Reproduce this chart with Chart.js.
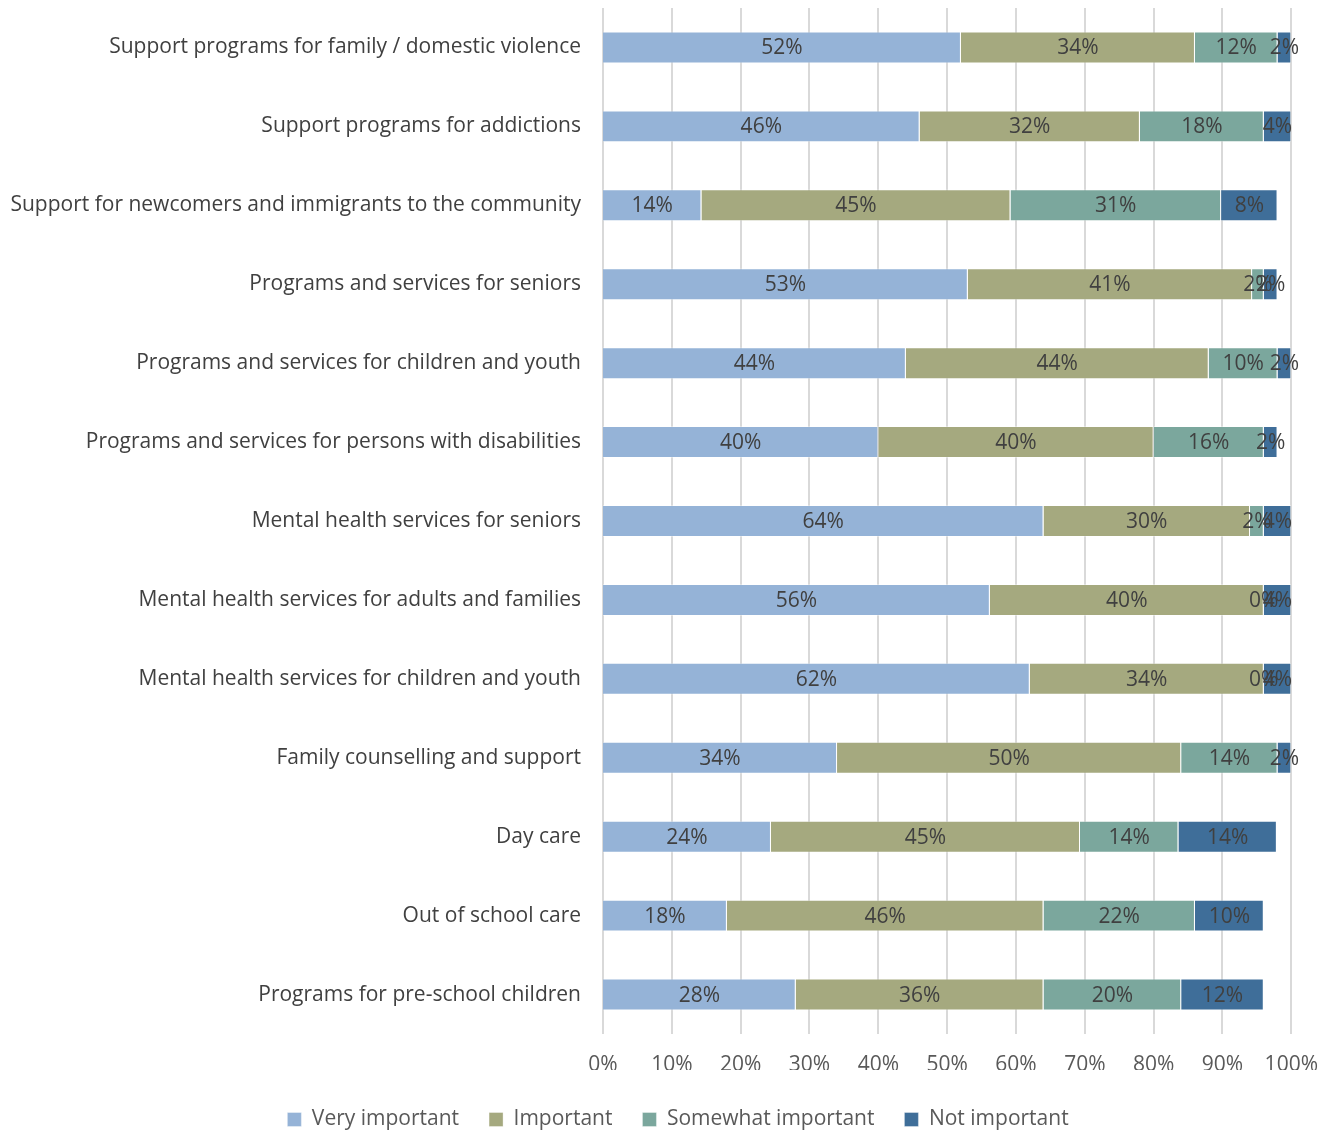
<!DOCTYPE html>
<html>
<head>
<meta charset="utf-8">
<script src="https://cdn.jsdelivr.net/npm/chart.js@4/dist/chart.umd.min.js"></script>
<style>
  html, body { margin: 0; padding: 0; background: #fff; }
  #wrap { width: 1336px; height: 1131px; }
</style>
</head>
<body>
<div id="wrap"><canvas id="chart"></canvas></div>
<script>
var categories = [
    'Support programs for family / domestic violence',
    'Support programs for addictions',
    'Support for newcomers and immigrants to the community',
    'Programs and services for seniors',
    'Programs and services for children and youth',
    'Programs and services for persons with disabilities',
    'Mental health services for seniors',
    'Mental health services for adults and families',
    'Mental health services for children and youth',
    'Family counselling and support',
    'Day care',
    'Out of school care',
    'Programs for pre-school children'
];

var veryImportant     = [52, 46, 14.3, 53, 44, 40, 64, 56.2, 62, 34, 24.4, 18, 28];
var important         = [34, 32, 44.9, 41.3, 44, 40, 30, 39.8, 34, 50, 44.9, 46, 36];
var somewhatImportant = [12, 18, 30.6, 1.7, 10, 16, 2, 0, 0, 14, 14.3, 22, 20];
var notImportant      = [2, 4, 8.2, 2, 2, 2, 4, 4, 4, 2, 14.3, 10, 12];

var seriesNames = ['Very important', 'Important', 'Somewhat important', 'Not important'];
var seriesColors = ['#95B3D7', '#A5A97F', '#7BA79D', '#3F6E99'];

var FONT = '"Open Sans", sans-serif';

// lineas verticales, solo dentro del area del grafico
var gridLines = {
    id: 'gridLines',
    beforeDatasetsDraw: function(chart) {
        var ctx = chart.ctx;
        var xs = chart.scales.x;
        var top = chart.chartArea.top;
        var bottom = xs.top;
        ctx.save();
        ctx.strokeStyle = '#D9D9D9';
        ctx.lineWidth = 2;
        xs.ticks.forEach(function(t) {
            var x = Math.round(xs.getPixelForValue(t.value));
            ctx.beginPath();
            ctx.moveTo(x, top);
            ctx.lineTo(x, bottom);
            ctx.stroke();
        });
        ctx.restore();
    }
};

// etiquetas dentro de cada segmento
var segmentLabels = {
    id: 'segmentLabels',
    afterDatasetsDraw: function(chart) {
        var ctx = chart.ctx;
        ctx.save();
        ctx.font = '21px ' + FONT;
        ctx.fillStyle = '#404040';
        ctx.textAlign = 'center';
        ctx.textBaseline = 'middle';
        chart.data.datasets.forEach(function(ds, i) {
            var meta = chart.getDatasetMeta(i);
            meta.data.forEach(function(bar, j) {
                var v = ds.data[j];
                var x = (bar.x + bar.base) / 2;
                ctx.fillText(Math.round(v) + '%', x, bar.y + 1);
            });
        });
        ctx.restore();
    }
};

// legend height + shift
var legendFit = {
    id: 'legendFit',
    beforeInit: function(chart) {
        var origFit = chart.legend.fit;
        chart.legend.fit = function() {
            origFit.bind(chart.legend)();
            this.height = 61;
        };
    },
    afterLayout: function(chart) {
        chart.legend.left += 31;
        chart.legend.right += 31;
        chart.legend.top += 9;
        chart.legend.bottom += 9;
    }
};

var datasets = [veryImportant, important, somewhatImportant, notImportant].map(function(vals, i) {
    return {
        label: seriesNames[i],
        data: vals,
        backgroundColor: seriesColors[i],
        borderColor: 'rgba(255,255,255,0.35)',
        borderWidth: 1,
        barPercentage: 0.405,
        categoryPercentage: 1.0
    };
});

var ctx = document.getElementById('chart').getContext('2d');
var chart = new Chart(ctx, {
    type: 'bar',
    data: {
        labels: categories,
        datasets: datasets
    },
    plugins: [gridLines, segmentLabels, legendFit],
    options: {
        indexAxis: 'y',
        responsive: true,
        maintainAspectRatio: false,
        animation: false,
        layout: {
            padding: { left: 0, right: 42, top: 8, bottom: 0 }
        },
        scales: {
            x: {
                stacked: true,
                min: 0,
                max: 100,
                border: { display: false },
                grid: { display: false, drawTicks: false },
                ticks: {
                    stepSize: 10,
                    padding: 18,
                    color: '#595959',
                    font: { family: FONT, size: 21 },
                    callback: function(v) { return v + '%'; }
                },
                afterFit: function(scale) { scale.height = 36; }
            },
            y: {
                stacked: true,
                border: { display: false },
                grid: { display: false, drawTicks: false },
                ticks: {
                    padding: 22,
                    color: '#404040',
                    font: { family: FONT, size: 21 }
                },
                afterFit: function(scale) {
                    scale.width = 603;
                    scale.paddingTop = 0;
                    scale.paddingBottom = 0;
                }
            }
        },
        plugins: {
            legend: {
                position: 'bottom',
                labels: {
                    boxWidth: 14,
                    boxHeight: 14,
                    padding: 30,
                    color: '#595959',
                    font: { family: FONT, size: 21 }
                }
            },
            tooltip: { enabled: false }
        }
    }
});
</script>
</body>
</html>
